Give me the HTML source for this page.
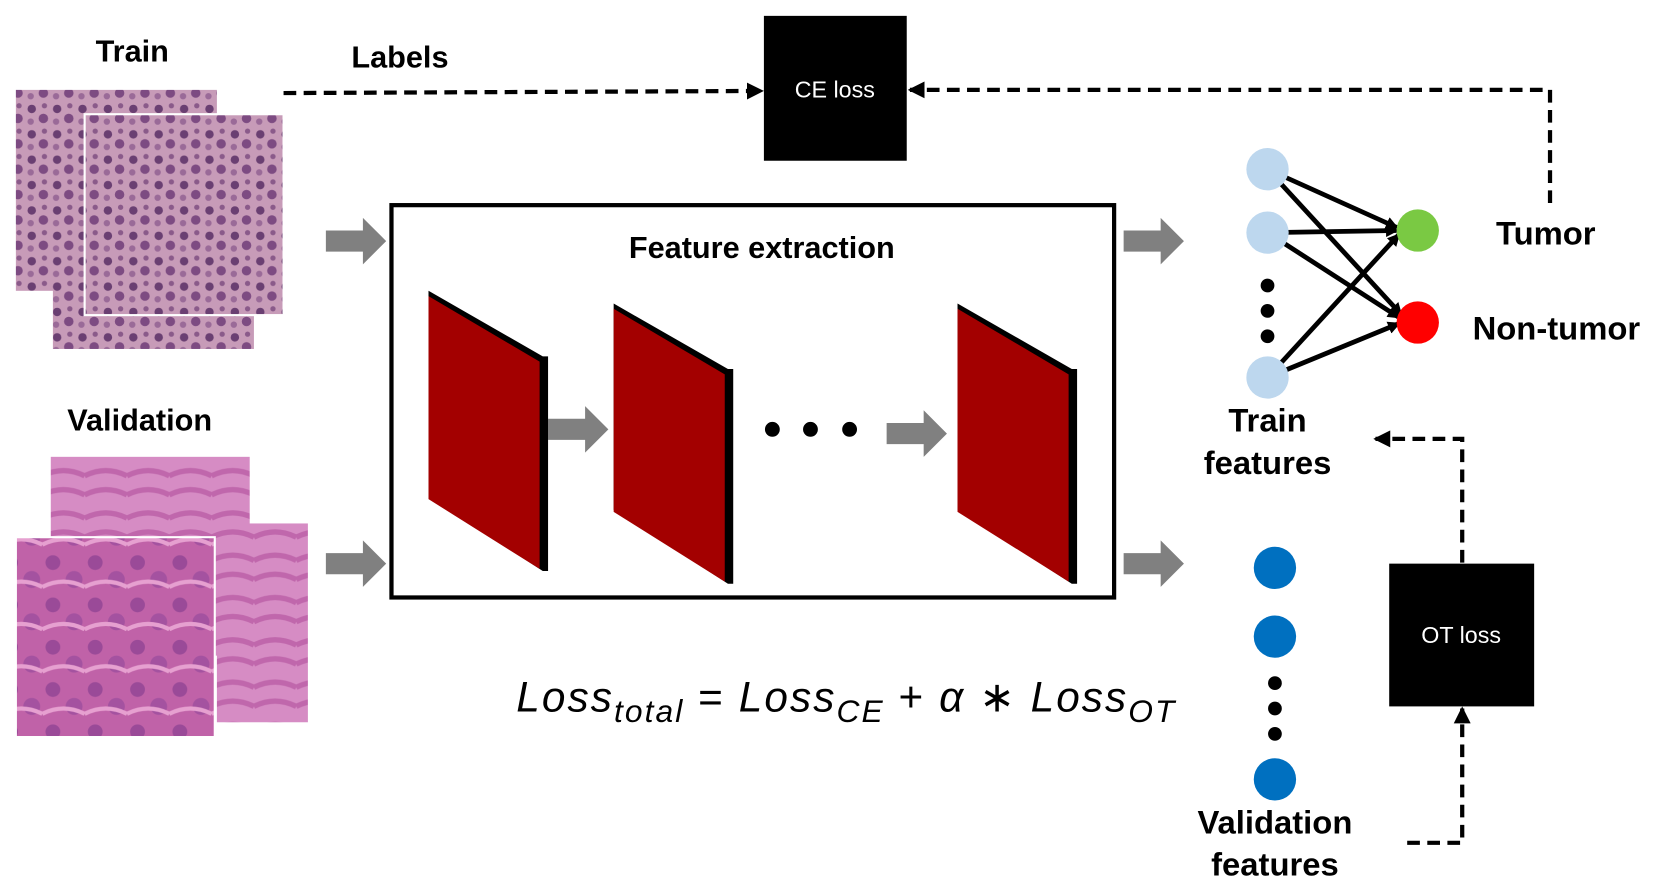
<!DOCTYPE html>
<html><head><style>
html,body{margin:0;padding:0;background:#fff;}
svg{display:block;}
text{font-family:"Liberation Sans",sans-serif;}
</style></head><body>
<svg width="1659" height="883" viewBox="0 0 1568 835" preserveAspectRatio="none" xmlns="http://www.w3.org/2000/svg">
<defs>
<marker id="ah" markerWidth="12" markerHeight="12" refX="10" refY="6" orient="auto" markerUnits="userSpaceOnUse"><path d="M0,0 L12,6 L0,12 z" fill="#000"/></marker>
<marker id="ah2" markerWidth="16" markerHeight="16" refX="14" refY="8" orient="auto" markerUnits="userSpaceOnUse"><path d="M0,0 L16,8 L0,16 z" fill="#000"/></marker>
<pattern id="cells" width="24" height="24" patternUnits="userSpaceOnUse">
<rect width="24" height="24" fill="#c79bb8"/>
<circle cx="6" cy="7" r="4" fill="#6a3f72"/><circle cx="17" cy="16" r="4.5" fill="#7d4b82"/><circle cx="18" cy="4" r="2.5" fill="#8a5a8a"/><circle cx="5" cy="19" r="3" fill="#9a6a98"/>
</pattern>
<pattern id="tissue" width="40" height="40" patternUnits="userSpaceOnUse">
<rect width="40" height="40" fill="#c062a8"/>
<circle cx="10" cy="12" r="7" fill="#9a4a98"/><circle cx="30" cy="28" r="8" fill="#a452a0"/><path d="M0,35 Q20,25 40,35" stroke="#e6a0d0" stroke-width="4" fill="none"/>
</pattern>
<pattern id="tissue2" width="40" height="40" patternUnits="userSpaceOnUse">
<rect width="40" height="40" fill="#d68cc4"/>
<path d="M0,10 Q20,0 40,10 M0,28 Q20,18 40,28" stroke="#c067ac" stroke-width="5" fill="none"/>
</pattern>
</defs>

<!-- Train images -->
<text x="125" y="58" font-size="29" font-weight="bold" text-anchor="middle">Train</text>
<rect x="15" y="85" width="190" height="190" fill="url(#cells)"/>
<rect x="50" y="145" width="190" height="185" fill="url(#cells)"/>
<rect x="80" y="108" width="188" height="190" fill="url(#cells)" stroke="#fff" stroke-width="2"/>

<!-- Validation images -->
<text x="132" y="407" font-size="29" font-weight="bold" text-anchor="middle">Validation</text>
<rect x="48" y="432" width="188" height="188" fill="url(#tissue2)"/>
<rect x="205" y="495" width="86" height="188" fill="url(#tissue2)"/>
<rect x="15" y="508" width="188" height="189" fill="url(#tissue)" stroke="#fff" stroke-width="2"/>

<!-- Labels & CE loss -->
<text x="378" y="64" font-size="29" font-weight="bold" text-anchor="middle">Labels</text>
<line x1="268" y1="88" x2="720" y2="86" stroke="#000" stroke-width="4" stroke-dasharray="12,7" marker-end="url(#ah2)"/>
<rect x="722" y="15" width="135" height="137" fill="#000"/>
<text x="789" y="92" font-size="22" fill="#fff" text-anchor="middle">CE loss</text>
<polyline points="1465,192 1465,85 860,85" fill="none" stroke="#000" stroke-width="4" stroke-dasharray="12,7" marker-end="url(#ah2)"/>

<!-- gray arrows -->
<g fill="#808080">
<path d="M308,218 h35 v-12 l22,22 l-22,22 v-12 h-35z"/>
<path d="M308,523 h35 v-12 l22,22 l-22,22 v-12 h-35z"/>
<path d="M1062,218 h35 v-12 l22,22 l-22,22 v-12 h-35z"/>
<path d="M1062,523 h35 v-12 l22,22 l-22,22 v-12 h-35z"/>
<path d="M518,396 h35 v-12 l22,22 l-22,22 v-12 h-35z"/>
<path d="M838,400 h35 v-12 l22,22 l-22,22 v-12 h-35z"/>
</g>

<!-- Feature extraction -->
<rect x="370" y="194" width="683" height="371" fill="none" stroke="#000" stroke-width="4"/>
<text x="720" y="244" font-size="29" font-weight="bold" text-anchor="middle">Feature extraction</text>
<g>
<polygon points="405,275 513,337 518,337 518,540 513,540 405,470" fill="#000"/>
<polygon points="405,280 510,342 510,538 405,472" fill="#a30000"/>
<polygon points="580,287 688,349 693,349 693,552 688,552 580,482" fill="#000"/>
<polygon points="580,292 685,354 685,550 580,484" fill="#a30000"/>
<polygon points="905,287 1013,349 1018,349 1018,552 1013,552 905,482" fill="#000"/>
<polygon points="905,292 1010,354 1010,550 905,484" fill="#a30000"/>
</g>
<circle cx="730" cy="406" r="7" fill="#000"/><circle cx="766" cy="406" r="7" fill="#000"/><circle cx="803" cy="406" r="7" fill="#000"/>

<!-- Network -->
<g stroke="#000" stroke-width="4.5">
<line x1="1198" y1="160" x2="1320" y2="215" marker-end="url(#ah)"/>
<line x1="1198" y1="160" x2="1324" y2="297" marker-end="url(#ah)"/>
<line x1="1198" y1="220" x2="1320" y2="218" marker-end="url(#ah)"/>
<line x1="1198" y1="220" x2="1322" y2="300" marker-end="url(#ah)"/>
<line x1="1198" y1="357" x2="1322" y2="222" marker-end="url(#ah)"/>
<line x1="1198" y1="357" x2="1322" y2="306" marker-end="url(#ah)"/>
</g>
<g fill="#bdd7ee">
<circle cx="1198" cy="160" r="20"/><circle cx="1198" cy="220" r="20"/><circle cx="1198" cy="357" r="20"/>
</g>
<circle cx="1198" cy="270" r="6.5" fill="#000"/><circle cx="1198" cy="294" r="6.5" fill="#000"/><circle cx="1198" cy="318" r="6.5" fill="#000"/>
<circle cx="1340" cy="218" r="20" fill="#7ac943"/>
<circle cx="1340" cy="305" r="20" fill="#ff0000"/>
<text x="1461" y="231" font-size="31" font-weight="bold" text-anchor="middle">Tumor</text>
<text x="1471" y="321" font-size="31" font-weight="bold" text-anchor="middle">Non-tumor</text>
<text x="1198" y="408" font-size="31" font-weight="bold" text-anchor="middle">Train</text>
<text x="1198" y="448" font-size="31" font-weight="bold" text-anchor="middle">features</text>

<!-- OT -->
<polyline points="1382,532 1382,415 1300,415" fill="none" stroke="#000" stroke-width="4" stroke-dasharray="12,7" marker-end="url(#ah2)"/>
<rect x="1313" y="533" width="137" height="135" fill="#000"/>
<text x="1381" y="608" font-size="22" fill="#fff" text-anchor="middle">OT loss</text>
<polyline points="1330,797 1382,797 1382,670" fill="none" stroke="#000" stroke-width="4" stroke-dasharray="12,7" marker-end="url(#ah2)"/>

<g fill="#0070c0">
<circle cx="1205" cy="537" r="20"/><circle cx="1205" cy="602" r="20"/><circle cx="1205" cy="737" r="20"/>
</g>
<circle cx="1205" cy="646" r="6.5" fill="#000"/><circle cx="1205" cy="670" r="6.5" fill="#000"/><circle cx="1205" cy="694" r="6.5" fill="#000"/>
<text x="1205" y="788" font-size="31" font-weight="bold" text-anchor="middle">Validation</text>
<text x="1205" y="828" font-size="31" font-weight="bold" text-anchor="middle">features</text>

<!-- formula -->
<text x="488" y="673" font-size="40" font-family="Liberation Serif,serif" font-style="italic" textLength="622" lengthAdjust="spacing">Loss<tspan font-size="30" dy="10">total</tspan><tspan dy="-10" font-style="normal"> = </tspan>Loss<tspan font-size="30" dy="10">CE</tspan><tspan dy="-10" font-style="normal"> +  </tspan>α <tspan font-style="normal">∗</tspan> Loss<tspan font-size="30" dy="10">OT</tspan></text>
</svg>
</body></html>
